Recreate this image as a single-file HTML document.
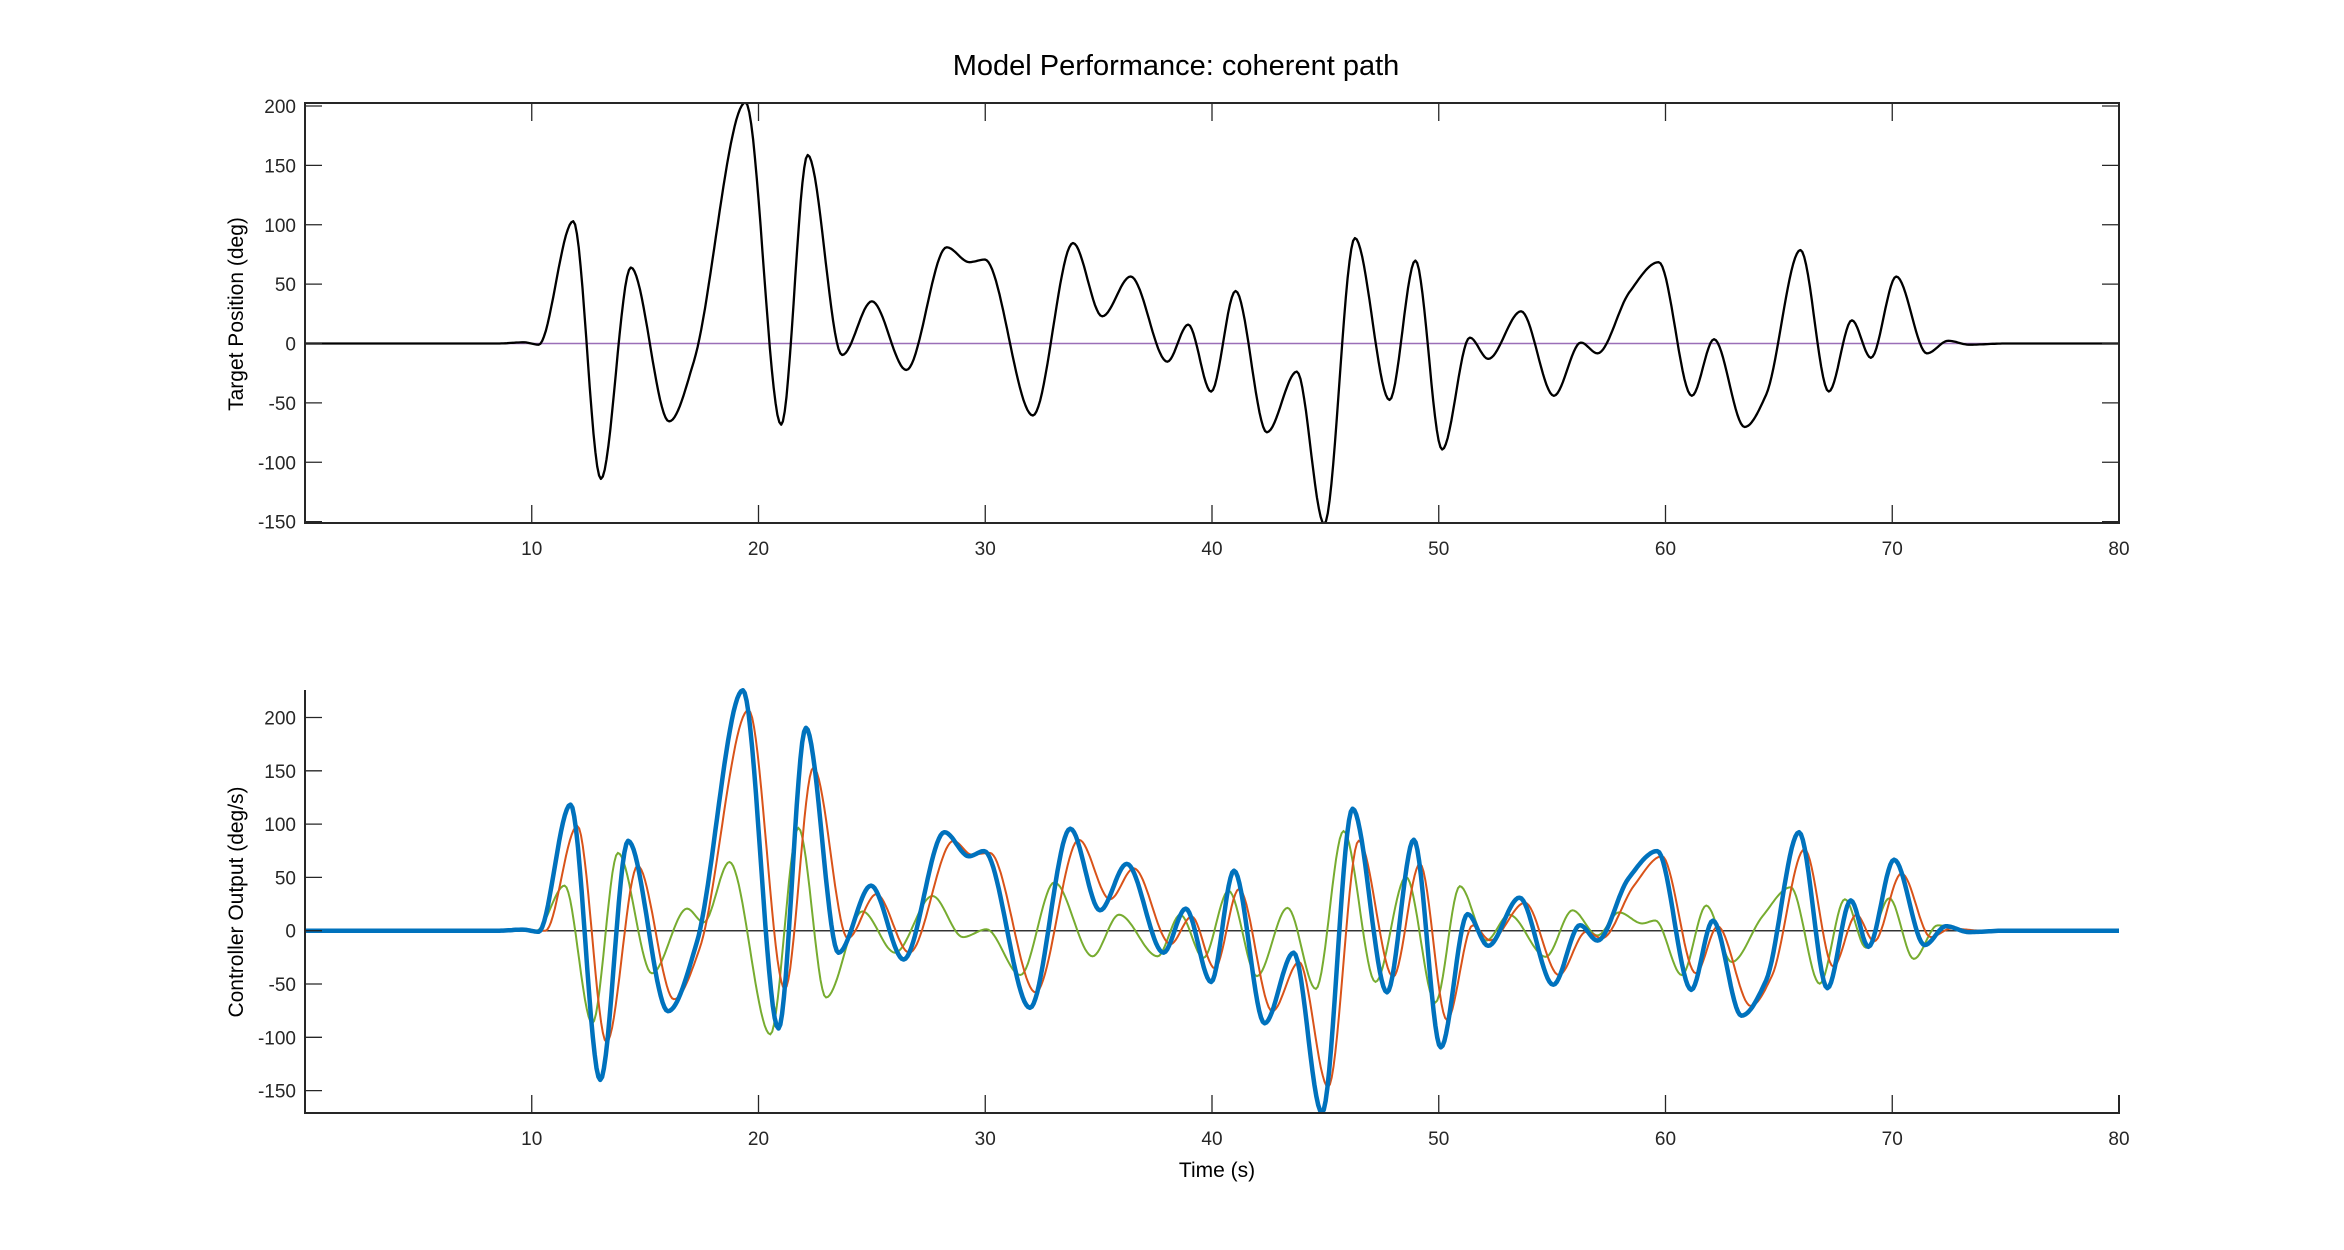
<!DOCTYPE html>
<html><head><meta charset="utf-8"><style>
html,body{margin:0;padding:0;background:#fff;}
svg{display:block;font-family:"Liberation Sans",Arial,sans-serif;}
</style></head><body>
<svg id="chart" width="2344" height="1250" viewBox="0 0 2344 1250" xmlns="http://www.w3.org/2000/svg">
<rect width="2344" height="1250" fill="#fff"/>
<text x="1176" y="75" font-size="29" text-anchor="middle" fill="#000">Model Performance: coherent path</text>
<defs>
<clipPath id="clipTop"><rect x="305" y="103" width="1815" height="421"/></clipPath>
<clipPath id="clipBot"><rect x="305" y="688" width="1815" height="426"/></clipPath>
</defs>
<g id="top"></g>
<g id="bot"></g>
<text transform="translate(243,314) rotate(-90)" font-size="21" text-anchor="middle">Target Position (deg)</text>
<text transform="translate(243,902) rotate(-90)" font-size="21" text-anchor="middle">Controller Output (deg/s)</text>
<text x="1217" y="1177" font-size="21" text-anchor="middle">Time (s)</text>
</svg>
<script>
const xTicks=[10,20,30,40,50,60,70,80];
const yTicks=[-150,-100,-50,0,50,100,150,200];
const targetT=[0,8.5,9.66,10.3,11.83,13.05,14.37,16.06,17.15,19.43,21.0,22.17,23.69,25.0,26.52,28.3,29.3,29.98,32.1,33.87,35.16,36.41,38.03,38.95,39.96,41.04,42.42,43.74,44.95,46.3,47.83,48.97,50.15,51.37,52.18,53.63,55.08,56.27,57.0,58.4,59.7,61.16,62.14,63.49,64.44,65.95,67.2,68.22,69.06,70.18,71.53,72.47,73.38,75,80];
const targetV=[0,0,1,-1,103,-114,64,-65.6,-15,203,-68.4,158.7,-9.7,35.5,-22.3,81,68.5,70.7,-60.6,84.6,22.9,56.4,-15.3,15.9,-40.5,44.2,-74.8,-23.7,-152,88.8,-47.5,69.8,-89.3,5,-13,27.1,-44,0.8,-8.3,43,68.5,-44,3.6,-70.3,-43,78.7,-40.5,19.5,-12,56.4,-8.3,2.3,-1,0,0];
const blueT=[0,8.5,9.6,10.3,11.71,13.02,14.25,16.01,17.28,19.31,20.88,22.09,23.53,24.96,26.4,28.2,29.28,29.95,31.97,33.75,35.06,36.24,37.86,38.84,39.96,40.97,42.32,43.6,44.85,46.2,47.72,48.9,50.09,51.27,52.18,53.56,55.05,56.23,57.0,58.36,59.64,61.14,62.09,63.35,64.44,65.89,67.14,68.17,68.95,70.08,71.43,72.37,73.38,75,80];
const blueV=[0,0,1,-1,118.3,-140,84.3,-75.5,-11,225.5,-91.7,190.3,-20.6,42.3,-27,92.4,69.8,74.7,-72.3,95.7,19.1,62.7,-20.6,20.7,-48.1,56.3,-86.9,-20.6,-170.8,114.4,-57.8,85.3,-109.5,15.6,-14.2,31,-50.7,5.2,-9.3,48.8,74.7,-55.5,9.4,-79.7,-46.5,92.4,-53.9,28.4,-15.1,66.6,-13.5,4.2,-1.3,0,0];
const redT=[0,10.6,12.01,13.3,14.67,16.27,17.4,19.56,21.16,22.42,23.94,25.2,26.65,28.6,29.4,30.2,32.22,34.13,35.5,36.55,38.17,39.1,40.12,41.19,42.66,43.84,45.12,46.47,47.99,49.17,50.36,51.5,52.27,53.8,55.3,56.5,57.2,58.6,59.84,61.34,62.3,63.76,64.7,66.13,67.4,68.42,69.2,70.41,71.7,72.6,74,80];
const redV=[0,0,98.2,-104.6,60.8,-64.3,-17,207,-54.6,153,-7,34.2,-20.6,84.3,71.4,73,-57.8,85.3,29.5,58.5,-12.6,13.3,-35.2,39.1,-75.5,-29.4,-146.6,84.3,-43.2,62.7,-83.7,5,-9,26.2,-41.6,-1,-7,42,69.8,-40,4,-70.6,-42,76.3,-33.6,15,-10,53.7,-6,2,0,0];
const greenT=[0,10.2,11.45,12.67,13.8,15.3,16.85,17.58,18.72,20.52,21.76,22.98,24.58,26.02,27.67,29.02,30.05,31.55,33.05,34.73,35.9,37.6,38.6,39.62,40.73,41.98,43.33,44.58,45.8,47.21,48.56,49.85,50.93,52.1,53.1,54.72,55.9,57.0,57.95,58.97,59.55,60.72,61.8,62.92,64.27,65.52,66.8,67.91,68.85,69.87,70.95,72.0,73.5,80];
const greenV=[0,0,42.3,-86.9,73,-40,20.7,7.8,64.4,-97.2,96.3,-62.7,18.1,-20.6,32.6,-6,1.3,-41.6,45.3,-24,15,-24,15,-25.5,37.5,-42.6,21.4,-54.6,93.4,-48,50.4,-67.4,41.7,-9.3,15,-24.5,19.1,-4.5,17.2,6.8,9.6,-41.6,23.6,-29.4,13.3,40.7,-49.7,29.5,-16,30.4,-26.5,5,0,0];

const NS="http://www.w3.org/2000/svg";
const X0=305,X1=2119;
function xS(t){return X0+(X1-X0)*t/80;}
function yTop(v){return 343.5-v*1.1875;}
function yBot(v){return 930.7-v*1.066;}
function mk(tag,attrs,parent){const e=document.createElementNS(NS,tag);for(const k in attrs)e.setAttribute(k,attrs[k]);parent.appendChild(e);return e;}
function monoPath(ts,vs,ys){
  const n=ts.length,d=[],m=new Array(n).fill(0);
  for(let i=0;i<n-1;i++)d.push((vs[i+1]-vs[i])/(ts[i+1]-ts[i]));
  for(let i=1;i<n-1;i++){if(d[i-1]*d[i]<=0)m[i]=0;else m[i]=2/(1/d[i-1]+1/d[i]);}
  m[0]=0;m[n-1]=0;
  let p="";
  for(let i=0;i<n-1;i++){
    const h=ts[i+1]-ts[i];
    const steps=Math.max(2,Math.ceil(h*12));
    for(let s=(i===0?0:1);s<=steps;s++){
      const u=s/steps,u2=u*u,u3=u2*u;
      const v=(2*u3-3*u2+1)*vs[i]+(u3-2*u2+u)*h*m[i]+(-2*u3+3*u2)*vs[i+1]+(u3-u2)*h*m[i+1];
      const t=ts[i]+u*h;
      p+=(p?"L":"M")+xS(t).toFixed(1)+","+ys(v).toFixed(1);
    }
  }
  return p;
}
function axes(g,ys,top,bot,box,pre){
  for(const t of xTicks){
    const x=xS(t);
    const tk=mk('line',{x1:x,x2:x,y1:bot,y2:bot-18,stroke:'#262626','stroke-width':1.3},g);
    
    
    if(box){const tk2=mk('line',{x1:x,x2:x,y1:top,y2:top+18,stroke:'#262626','stroke-width':1.3},g);
      
      }
    const lb=mk('text',{x:x,y:bot+32,'font-size':19,'text-anchor':'middle',fill:'#262626'},g);
    lb.textContent=t;
    
    
  }
  for(const v of yTicks){
    const y=ys(v);
    const tk=mk('line',{x1:X0,x2:X0+17,y1:y,y2:y,stroke:'#262626','stroke-width':1.3},g);
    
    
    if(box){const tk2=mk('line',{x1:X1-17,x2:X1,y1:y,y2:y,stroke:'#262626','stroke-width':1.3},g);
      
      }
    const lb=mk('text',{x:296,y:y+7,'font-size':19,'text-anchor':'end',fill:'#262626'},g);
    lb.textContent=v;
    
    
  }
  const p=box?`M${X0},${top}H${X1}V${bot}H${X0}Z`:`M${X0},${top}V${bot}H${X1}V${bot-18}`;
  const ax=mk('path',{d:p,fill:'none',stroke:'#262626','stroke-width':2},g);
  
  
}
const gT=document.getElementById('top'),gB=document.getElementById('bot');
// top panel
const z1=mk('line',{x1:X0,x2:X1,y1:yTop(0),y2:yTop(0),stroke:'#9a6fb8','stroke-width':1.5},gT);


const tl=mk('path',{d:monoPath(targetT,targetV,yTop),fill:'none',stroke:'#000','stroke-width':2.3,'clip-path':'url(#clipTop)','stroke-linejoin':'round'},gT);


axes(gT,yTop,103,523,true,'top-');
// bottom panel
const z2=mk('line',{x1:X0,x2:X1,y1:yBot(0),y2:yBot(0),stroke:'#333','stroke-width':1.5},gB);


const gl=mk('path',{d:monoPath(greenT,greenV,yBot),fill:'none',stroke:'#77AC30','stroke-width':2,'clip-path':'url(#clipBot)'},gB);


const rl=mk('path',{d:monoPath(redT,redV,yBot),fill:'none',stroke:'#D95319','stroke-width':2,'clip-path':'url(#clipBot)'},gB);


const bl=mk('path',{d:monoPath(blueT,blueV,yBot),fill:'none',stroke:'#0072BD','stroke-width':4.5,'clip-path':'url(#clipBot)','stroke-linejoin':'round'},gB);


axes(gB,yBot,690,1113,false,'bottom-');
</script>
</body></html>
